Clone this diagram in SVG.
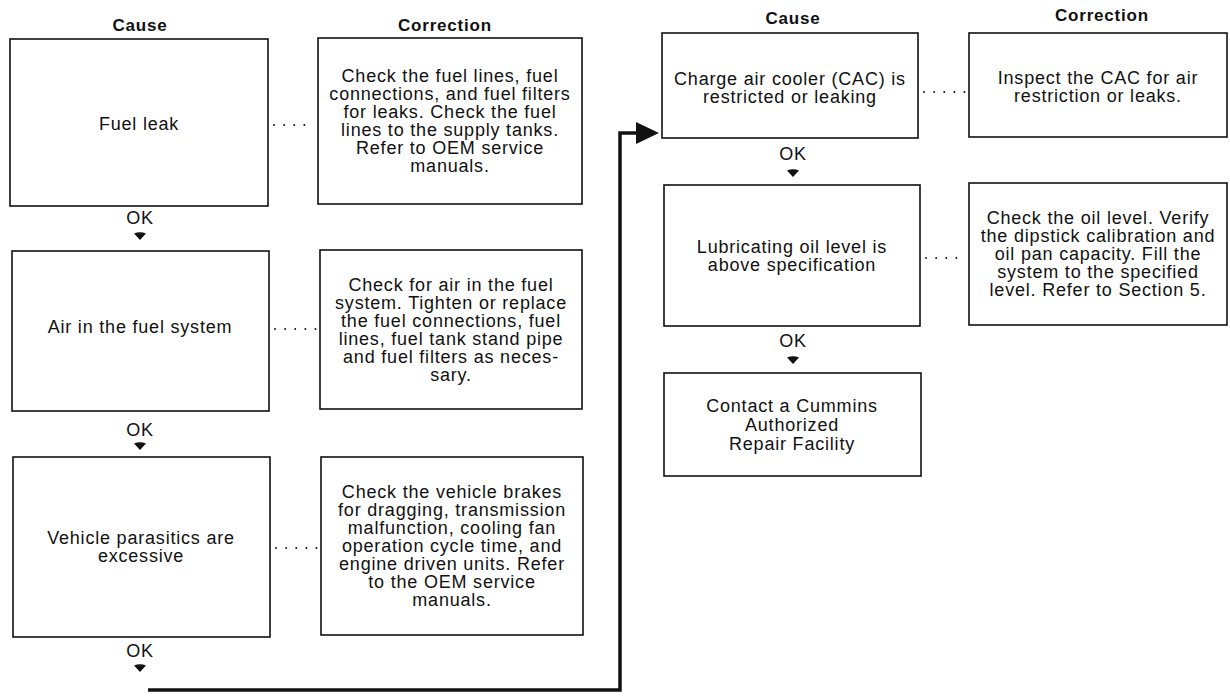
<svg xmlns="http://www.w3.org/2000/svg" width="1230" height="696" viewBox="0 0 1230 696">
  <defs>
    <style>
      .box { fill: #fff; stroke: #111; stroke-width: 1.6; }
      .txt { font-family: "Liberation Sans", Arial, sans-serif; font-size: 18px; letter-spacing: 0.8px; fill: #111; text-anchor: middle; }
      .hdr { font-family: "Liberation Sans", Arial, sans-serif; font-size: 17px; font-weight: bold; letter-spacing: 0.8px; fill: #111; text-anchor: middle; }
      .dots { fill: none; stroke: #111; stroke-width: 1.8; stroke-linecap: round; stroke-dasharray: 0.1 10; }
      .flow { fill: none; stroke: #111; stroke-width: 3.5; stroke-linejoin: miter; }
      .tip { fill: #111; }
    </style>
    <!-- small solid down-pointer used under each OK label -->
    <path id="down" d="M-6,-2.5 Q0,-5 6,-2.5 L0,4 Z"/>
    <marker id="bigHead" markerUnits="userSpaceOnUse" markerWidth="24" markerHeight="24" refX="2" refY="12" orient="auto">
      <path d="M0,1 L23,12 L0,23 Z" fill="#111"/>
    </marker>
  </defs>

  <rect width="1230" height="696" fill="#fff"/>

  <!-- column headers -->
  <g id="headers">
    <text class="hdr" x="140" y="31">Cause</text>
    <text class="hdr" x="445" y="31">Correction</text>
    <text class="hdr" x="793" y="24">Cause</text>
    <text class="hdr" x="1102" y="21">Correction</text>
  </g>

  <!-- connectors: dotted cause-correction links, OK steps and the column jump -->
  <g id="connectors">
    <line class="dots" x1="274" y1="125" x2="314" y2="125"/>
    <line class="dots" x1="275" y1="329" x2="316" y2="329"/>
    <line class="dots" x1="276" y1="548" x2="317" y2="548"/>
    <line class="dots" x1="924" y1="92" x2="965" y2="92"/>
    <line class="dots" x1="926" y1="258" x2="965" y2="258"/>

    <text class="txt" x="140" y="224">OK</text>
    <use href="#down" x="140" y="236" class="tip"/>
    <text class="txt" x="140" y="436">OK</text>
    <use href="#down" x="140" y="446" class="tip"/>
    <text class="txt" x="140" y="657">OK</text>
    <use href="#down" x="140" y="668" class="tip"/>
    <text class="txt" x="793" y="160">OK</text>
    <use href="#down" x="793" y="173" class="tip"/>
    <text class="txt" x="793" y="347">OK</text>
    <use href="#down" x="793" y="360" class="tip"/>

    <path class="flow" d="M148,690 H620 V133 H638" marker-end="url(#bigHead)"/>
  </g>

  <!-- left column -->
  <g id="fuel-leak">
    <rect class="box" x="10" y="39" width="258" height="167"/>
    <text class="txt" x="139" y="130">Fuel leak</text>
  </g>
  <g id="fuel-leak-fix">
    <rect class="box" x="318" y="38" width="264" height="166"/>
    <text class="txt" x="450" y="82">Check the fuel lines, fuel</text>
    <text class="txt" x="450" y="100">connections, and fuel filters</text>
    <text class="txt" x="450" y="118">for leaks. Check the fuel</text>
    <text class="txt" x="450" y="136">lines to the supply tanks.</text>
    <text class="txt" x="450" y="154">Refer to OEM service</text>
    <text class="txt" x="450" y="172">manuals.</text>
  </g>

  <g id="air-in-fuel">
    <rect class="box" x="12" y="251" width="257" height="160"/>
    <text class="txt" x="140" y="333">Air in the fuel system</text>
  </g>
  <g id="air-in-fuel-fix">
    <rect class="box" x="320" y="250" width="262" height="159"/>
    <text class="txt" x="451" y="291">Check for air in the fuel</text>
    <text class="txt" x="451" y="309">system. Tighten or replace</text>
    <text class="txt" x="451" y="327">the fuel connections, fuel</text>
    <text class="txt" x="451" y="345">lines, fuel tank stand pipe</text>
    <text class="txt" x="451" y="363">and fuel filters as neces-</text>
    <text class="txt" x="451" y="381">sary.</text>
  </g>

  <g id="parasitics">
    <rect class="box" x="13" y="457" width="257" height="180"/>
    <text class="txt" x="141" y="544">Vehicle parasitics are</text>
    <text class="txt" x="141" y="562">excessive</text>
  </g>
  <g id="parasitics-fix">
    <rect class="box" x="321" y="457" width="262" height="178"/>
    <text class="txt" x="452" y="498">Check the vehicle brakes</text>
    <text class="txt" x="452" y="516">for dragging, transmission</text>
    <text class="txt" x="452" y="534">malfunction, cooling fan</text>
    <text class="txt" x="452" y="552">operation cycle time, and</text>
    <text class="txt" x="452" y="570">engine driven units. Refer</text>
    <text class="txt" x="452" y="588">to the OEM service</text>
    <text class="txt" x="452" y="606">manuals.</text>
  </g>

  <!-- right column -->
  <g id="cac">
    <rect class="box" x="662" y="33" width="256" height="105"/>
    <text class="txt" x="790" y="85">Charge air cooler (CAC) is</text>
    <text class="txt" x="790" y="103">restricted or leaking</text>
  </g>
  <g id="cac-fix">
    <rect class="box" x="969" y="33" width="258" height="104"/>
    <text class="txt" x="1098" y="84">Inspect the CAC for air</text>
    <text class="txt" x="1098" y="102">restriction or leaks.</text>
  </g>

  <g id="oil-level">
    <rect class="box" x="664" y="185" width="256" height="141"/>
    <text class="txt" x="792" y="253">Lubricating oil level is</text>
    <text class="txt" x="792" y="271">above specification</text>
  </g>
  <g id="oil-level-fix">
    <rect class="box" x="969" y="183" width="258" height="142"/>
    <text class="txt" x="1098" y="224">Check the oil level. Verify</text>
    <text class="txt" x="1098" y="242">the dipstick calibration and</text>
    <text class="txt" x="1098" y="260">oil pan capacity. Fill the</text>
    <text class="txt" x="1098" y="278">system to the specified</text>
    <text class="txt" x="1098" y="296">level. Refer to Section 5.</text>
  </g>

  <g id="repair-facility">
    <rect class="box" x="664" y="373" width="257" height="103"/>
    <text class="txt" x="792" y="412">Contact a Cummins</text>
    <text class="txt" x="792" y="431">Authorized</text>
    <text class="txt" x="792" y="450">Repair Facility</text>
  </g>
</svg>
